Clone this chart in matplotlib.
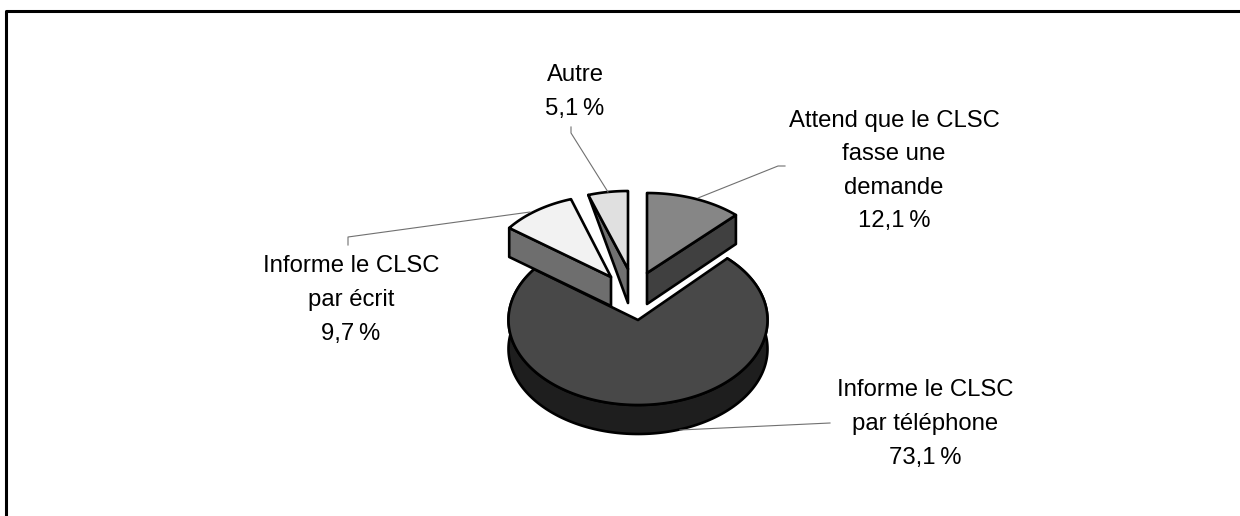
import numpy as np
import matplotlib
matplotlib.use('Agg')
import matplotlib.pyplot as plt
from matplotlib.patches import Polygon

plt.rcParams['font.family'] = ['Liberation Sans', 'DejaVu Sans']

# Data
labels = ['Attend que le CLSC\nfasse une\ndemande',
          'Informe le CLSC\npar téléphone',
          'Informe le CLSC\npar écrit',
          'Autre']
values = [12.1, 73.1, 9.7, 5.1]
value_text = ['12,1\u2009%', '73,1\u2009%', '9,7\u2009%', '5,1\u2009%']

# Look of each slice (pixels of the 1240x516 image)
top_colors = ['#868686', '#484848', '#f2f2f2', '#e0e0e0']
side_colors = ['#404040', '#1e1e1e', '#6e6e6e', '#707070']
centers = [(647, 273), (638, 320), (611, 277), (628, 269)]
radii = [(129, 80), (129.5, 85), (127, 82), (126, 78)]
depths = [31, 29, 29, 34]
label_pos = [(894, 171), (925, 424), (351, 300), (575, 92)]
leaders = [[(698, 198), (778, 166), (785, 166)],
           [(680, 430), (830, 423)],
           [(530, 212), (348, 237), (348, 245)],
           [(608, 192), (571, 133), (571, 127)]]

fig = plt.figure(figsize=(12.4, 5.16), dpi=100)
ax = fig.add_axes([0, 0, 1, 1])
ax.set_xlim(0, 1240)
ax.set_ylim(516, 0)
ax.axis('off')

# frame of the picture, only top and left are inside the crop
ax.plot([6, 6, 1245], [530, 10.5, 10.5], color='black', lw=2.2, zorder=1)


def arc(i, a0, a1, dy=0):
    cx, cy = centers[i]
    rx, ry = radii[i]
    t = np.radians(np.linspace(a0, a1, 200))
    return np.column_stack([cx + rx * np.sin(t), cy + dy - ry * np.cos(t)])


def add(pts, color, z):
    ax.add_patch(Polygon(pts, closed=True, facecolor=color, edgecolor='black',
                         lw=1.9, joinstyle='round', zorder=z))


edges = np.cumsum([0] + values) / sum(values) * 360

# main slice sits under the exploded ones
a0, a1 = edges[1], edges[2]
d = depths[1]
rim = arc(1, a0, a1)
low = arc(1, a0, a1, d)
add(np.vstack([rim, low[::-1]]), side_colors[1], 2)
add(np.vstack([[centers[1]], rim]), top_colors[1], 3)

# first slice, the cut face shows on its right end
a0, a1 = edges[0], edges[1]
d = depths[0]
apex = np.array(centers[0])
corner = arc(0, a1, a1)[0]
add([apex, corner, corner + [0, d - 2], apex + [0, d]], side_colors[0], 4)
add(np.vstack([[apex], arc(0, a0, a1)]), top_colors[0], 5)

# last slice, only a thin wedge of its cut face can be seen
a0, a1 = edges[3], edges[4]
d = depths[3]
apex = np.array(centers[3])
corner = arc(3, a0, a0)[0]
add([apex, corner, apex + [0, d]], side_colors[3], 4)
add(np.vstack([[apex], arc(3, a0, a1)]), top_colors[3], 5)

# third slice
a0, a1 = edges[2], edges[3]
d = depths[2]
apex = np.array(centers[2])
corner = arc(2, a0, a0)[0]
add([apex, corner, corner + [0, d], apex + [0, d]], side_colors[2], 6)
add(np.vstack([[apex], arc(2, a0, a1)]), top_colors[2], 7)

# leader lines and labels
for pts in leaders:
    xs, ys = zip(*pts)
    ax.plot(xs, ys, color='#707070', lw=0.8, zorder=8)

for lab, val, (x, y) in zip(labels, value_text, label_pos):
    ax.text(x, y, lab + '\n' + val, ha='center', va='center', fontsize=17.2,
            linespacing=1.68, color='black', zorder=9)

fig.savefig('out.png', dpi=100)
